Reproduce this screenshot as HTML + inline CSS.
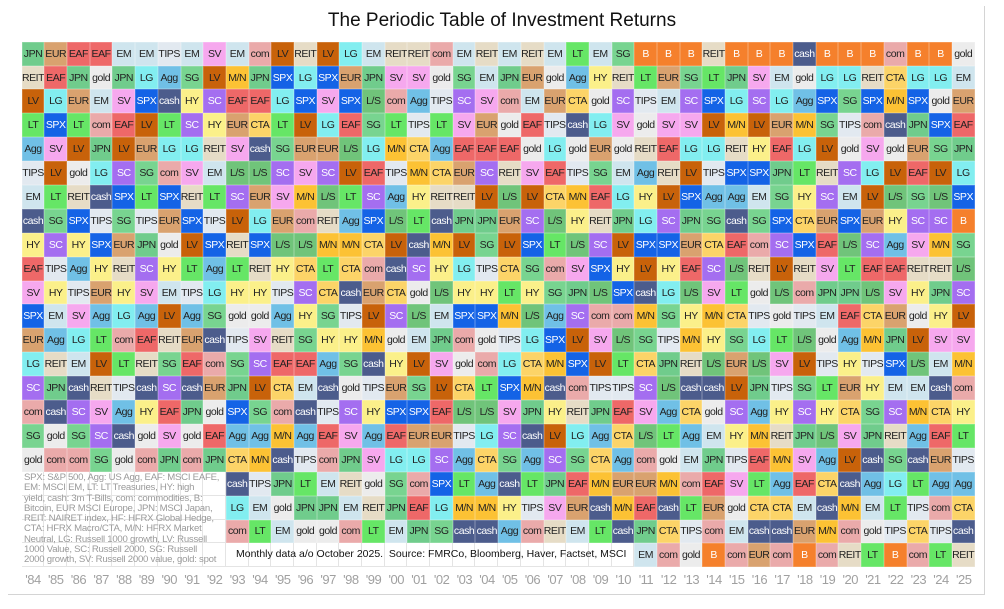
<!DOCTYPE html>
<html><head><meta charset="utf-8"><style>
body{margin:0;width:1004px;height:609px;background:#fff;position:relative;font-family:"Liberation Sans",Arial,sans-serif;overflow:hidden}
#frame{position:absolute;left:8px;top:6px;width:976px;height:588px;border:1px solid #d4d4d4;border-top:none;border-left:none}
#title{position:absolute;left:0;width:1004px;top:10px;text-align:center;font-size:19px;color:#111}
#g{position:absolute;left:21.7px;top:41.7px;display:grid;grid-template-columns:repeat(42,22.7px);grid-template-rows:repeat(22,23.9px)}
#g i{font-style:normal;display:flex;align-items:center;justify-content:center;font-size:10.5px;letter-spacing:-0.45px;color:#222;white-space:nowrap;overflow:hidden;box-shadow:inset 0 0 0 0.5px rgba(255,255,255,0.35)}
#g i.x{background:#fff;box-shadow:inset -1px -1px 0 #e4e4e4}
.j{background:#70cc8c}.eu{background:#d9a26f}.ea{background:#ee6868}.em{background:#cfe5ee}.ti{background:#e2e9f0}
.sv{background:#f6a8ee}.co{background:#eaaaaa}.re{background:#e6dcc6}.go{background:#ececec}.lg{background:#82eef0}
.ag{background:#70c0e6}.sg{background:#78d490}.lv{background:#c8620a}.mn{background:#fcc234}
.sp{background:#1463e6;color:#fff!important}.ca{background:#4c5c8c;color:#fff!important}.hy{background:#fbf08a}
.sc{background:#a46ef0;color:#fff!important}.lt{background:#66e666}.ct{background:#fcd468}.ls{background:#70c47a}
.b{background:#f5802c;color:#fff!important}
#leg{position:absolute;left:24px;top:473px;width:210px;font-size:9.6px;line-height:10.3px;color:#9a9a9a;letter-spacing:-0.25px;white-space:nowrap}
#src{position:absolute;left:236px;top:548px;font-size:10.5px;color:#111}
.yr{position:absolute;top:572px;width:22.7px;text-align:center;font-size:13px;color:#a0a0a0;letter-spacing:-0.5px}
</style></head><body>
<div id="frame"></div>
<div id="title">The Periodic Table of Investment Returns</div>
<div id="g">
<i class=j>JPN</i><i class=eu>EUR</i><i class=ea>EAF</i><i class=ea>EAF</i><i class=em>EM</i><i class=em>EM</i><i class=ti>TIPS</i><i class=em>EM</i><i class=sv>SV</i><i class=em>EM</i><i class=co>com</i><i class=lv>LV</i><i class=re>REIT</i><i class=lv>LV</i><i class=lg>LG</i><i class=em>EM</i><i class=re>REIT</i><i class=re>REIT</i><i class=co>com</i><i class=em>EM</i><i class=re>REIT</i><i class=em>EM</i><i class=re>REIT</i><i class=em>EM</i><i class=lt>LT</i><i class=em>EM</i><i class=sg>SG</i><i class=b>B</i><i class=b>B</i><i class=b>B</i><i class=re>REIT</i><i class=b>B</i><i class=b>B</i><i class=b>B</i><i class=ca>cash</i><i class=b>B</i><i class=b>B</i><i class=b>B</i><i class=co>com</i><i class=b>B</i><i class=b>B</i><i class=go>gold</i>
<i class=re>REIT</i><i class=ea>EAF</i><i class=j>JPN</i><i class=go>gold</i><i class=j>JPN</i><i class=lg>LG</i><i class=ag>Agg</i><i class=sg>SG</i><i class=lv>LV</i><i class=mn>M/N</i><i class=j>JPN</i><i class=sp>SPX</i><i class=lg>LG</i><i class=sp>SPX</i><i class=eu>EUR</i><i class=j>JPN</i><i class=sv>SV</i><i class=sv>SV</i><i class=go>gold</i><i class=sg>SG</i><i class=em>EM</i><i class=j>JPN</i><i class=eu>EUR</i><i class=go>gold</i><i class=ag>Agg</i><i class=hy>HY</i><i class=re>REIT</i><i class=lt>LT</i><i class=eu>EUR</i><i class=sg>SG</i><i class=lt>LT</i><i class=j>JPN</i><i class=sv>SV</i><i class=em>EM</i><i class=go>gold</i><i class=lg>LG</i><i class=lg>LG</i><i class=re>REIT</i><i class=ct>CTA</i><i class=lg>LG</i><i class=lg>LG</i><i class=em>EM</i>
<i class=lv>LV</i><i class=lg>LG</i><i class=eu>EUR</i><i class=em>EM</i><i class=sv>SV</i><i class=sp>SPX</i><i class=ca>cash</i><i class=hy>HY</i><i class=sc>SC</i><i class=ea>EAF</i><i class=ea>EAF</i><i class=lg>LG</i><i class=sp>SPX</i><i class=sv>SV</i><i class=sp>SPX</i><i class=ls>L/S</i><i class=co>com</i><i class=ag>Agg</i><i class=ti>TIPS</i><i class=sc>SC</i><i class=sv>SV</i><i class=co>com</i><i class=em>EM</i><i class=eu>EUR</i><i class=ct>CTA</i><i class=go>gold</i><i class=sc>SC</i><i class=ti>TIPS</i><i class=em>EM</i><i class=sc>SC</i><i class=sp>SPX</i><i class=lg>LG</i><i class=sc>SC</i><i class=lg>LG</i><i class=ag>Agg</i><i class=sp>SPX</i><i class=sg>SG</i><i class=sp>SPX</i><i class=mn>M/N</i><i class=sp>SPX</i><i class=go>gold</i><i class=eu>EUR</i>
<i class=lt>LT</i><i class=sp>SPX</i><i class=lt>LT</i><i class=co>com</i><i class=ea>EAF</i><i class=lv>LV</i><i class=lt>LT</i><i class=sc>SC</i><i class=hy>HY</i><i class=eu>EUR</i><i class=ct>CTA</i><i class=lt>LT</i><i class=lv>LV</i><i class=lg>LG</i><i class=ea>EAF</i><i class=sg>SG</i><i class=lt>LT</i><i class=ti>TIPS</i><i class=lt>LT</i><i class=sv>SV</i><i class=eu>EUR</i><i class=go>gold</i><i class=ea>EAF</i><i class=ti>TIPS</i><i class=ca>cash</i><i class=lg>LG</i><i class=sv>SV</i><i class=go>gold</i><i class=sv>SV</i><i class=sv>SV</i><i class=lv>LV</i><i class=mn>M/N</i><i class=lv>LV</i><i class=eu>EUR</i><i class=mn>M/N</i><i class=sg>SG</i><i class=ti>TIPS</i><i class=co>com</i><i class=ca>cash</i><i class=j>JPN</i><i class=sp>SPX</i><i class=ea>EAF</i>
<i class=ag>Agg</i><i class=sv>SV</i><i class=lv>LV</i><i class=j>JPN</i><i class=lv>LV</i><i class=eu>EUR</i><i class=lg>LG</i><i class=lg>LG</i><i class=re>REIT</i><i class=sv>SV</i><i class=ca>cash</i><i class=sg>SG</i><i class=eu>EUR</i><i class=eu>EUR</i><i class=ls>L/S</i><i class=lg>LG</i><i class=mn>M/N</i><i class=ct>CTA</i><i class=ag>Agg</i><i class=ea>EAF</i><i class=ea>EAF</i><i class=ea>EAF</i><i class=go>gold</i><i class=lg>LG</i><i class=go>gold</i><i class=eu>EUR</i><i class=go>gold</i><i class=re>REIT</i><i class=ea>EAF</i><i class=lg>LG</i><i class=lg>LG</i><i class=re>REIT</i><i class=hy>HY</i><i class=ea>EAF</i><i class=lg>LG</i><i class=lv>LV</i><i class=go>gold</i><i class=sv>SV</i><i class=go>gold</i><i class=eu>EUR</i><i class=sg>SG</i><i class=j>JPN</i>
<i class=ti>TIPS</i><i class=lv>LV</i><i class=go>gold</i><i class=lg>LG</i><i class=sc>SC</i><i class=sg>SG</i><i class=co>com</i><i class=sv>SV</i><i class=em>EM</i><i class=ls>L/S</i><i class=ls>L/S</i><i class=sc>SC</i><i class=sv>SV</i><i class=sc>SC</i><i class=lv>LV</i><i class=ea>EAF</i><i class=ti>TIPS</i><i class=mn>M/N</i><i class=ct>CTA</i><i class=eu>EUR</i><i class=sc>SC</i><i class=re>REIT</i><i class=sv>SV</i><i class=ea>EAF</i><i class=ti>TIPS</i><i class=sg>SG</i><i class=em>EM</i><i class=ag>Agg</i><i class=re>REIT</i><i class=lv>LV</i><i class=ti>TIPS</i><i class=sp>SPX</i><i class=sp>SPX</i><i class=j>JPN</i><i class=lt>LT</i><i class=re>REIT</i><i class=sc>SC</i><i class=lg>LG</i><i class=lv>LV</i><i class=ea>EAF</i><i class=lv>LV</i><i class=lg>LG</i>
<i class=em>EM</i><i class=lt>LT</i><i class=re>REIT</i><i class=ca>cash</i><i class=sp>SPX</i><i class=lt>LT</i><i class=sp>SPX</i><i class=re>REIT</i><i class=lt>LT</i><i class=sc>SC</i><i class=eu>EUR</i><i class=sv>SV</i><i class=mn>M/N</i><i class=ls>L/S</i><i class=lt>LT</i><i class=sc>SC</i><i class=ag>Agg</i><i class=hy>HY</i><i class=re>REIT</i><i class=re>REIT</i><i class=lv>LV</i><i class=ls>L/S</i><i class=lv>LV</i><i class=ct>CTA</i><i class=mn>M/N</i><i class=ea>EAF</i><i class=lg>LG</i><i class=hy>HY</i><i class=lv>LV</i><i class=sp>SPX</i><i class=ag>Agg</i><i class=ag>Agg</i><i class=em>EM</i><i class=sg>SG</i><i class=hy>HY</i><i class=sc>SC</i><i class=em>EM</i><i class=lv>LV</i><i class=ls>L/S</i><i class=sg>SG</i><i class=ls>L/S</i><i class=sp>SPX</i>
<i class=ca>cash</i><i class=sg>SG</i><i class=sp>SPX</i><i class=ti>TIPS</i><i class=sg>SG</i><i class=ti>TIPS</i><i class=eu>EUR</i><i class=sp>SPX</i><i class=ti>TIPS</i><i class=lv>LV</i><i class=lg>LG</i><i class=eu>EUR</i><i class=co>com</i><i class=re>REIT</i><i class=ag>Agg</i><i class=sp>SPX</i><i class=ls>L/S</i><i class=lt>LT</i><i class=ca>cash</i><i class=j>JPN</i><i class=j>JPN</i><i class=eu>EUR</i><i class=sc>SC</i><i class=ls>L/S</i><i class=hy>HY</i><i class=re>REIT</i><i class=j>JPN</i><i class=lg>LG</i><i class=sc>SC</i><i class=j>JPN</i><i class=sg>SG</i><i class=ca>cash</i><i class=sg>SG</i><i class=sp>SPX</i><i class=ct>CTA</i><i class=eu>EUR</i><i class=sp>SPX</i><i class=eu>EUR</i><i class=hy>HY</i><i class=sc>SC</i><i class=sc>SC</i><i class=b>B</i>
<i class=hy>HY</i><i class=sc>SC</i><i class=hy>HY</i><i class=sp>SPX</i><i class=eu>EUR</i><i class=j>JPN</i><i class=go>gold</i><i class=lv>LV</i><i class=sp>SPX</i><i class=re>REIT</i><i class=sp>SPX</i><i class=ls>L/S</i><i class=ls>L/S</i><i class=mn>M/N</i><i class=mn>M/N</i><i class=ct>CTA</i><i class=lv>LV</i><i class=ca>cash</i><i class=mn>M/N</i><i class=lv>LV</i><i class=sg>SG</i><i class=lv>LV</i><i class=sp>SPX</i><i class=lt>LT</i><i class=ls>L/S</i><i class=sc>SC</i><i class=lv>LV</i><i class=sp>SPX</i><i class=sp>SPX</i><i class=eu>EUR</i><i class=ct>CTA</i><i class=ea>EAF</i><i class=co>com</i><i class=sc>SC</i><i class=sp>SPX</i><i class=ea>EAF</i><i class=ls>L/S</i><i class=sc>SC</i><i class=ag>Agg</i><i class=sv>SV</i><i class=mn>M/N</i><i class=sg>SG</i>
<i class=ea>EAF</i><i class=ti>TIPS</i><i class=ag>Agg</i><i class=hy>HY</i><i class=re>REIT</i><i class=sc>SC</i><i class=hy>HY</i><i class=lt>LT</i><i class=ag>Agg</i><i class=lt>LT</i><i class=re>REIT</i><i class=hy>HY</i><i class=ct>CTA</i><i class=lt>LT</i><i class=ct>CTA</i><i class=co>com</i><i class=ca>cash</i><i class=sc>SC</i><i class=hy>HY</i><i class=lg>LG</i><i class=ti>TIPS</i><i class=ct>CTA</i><i class=sg>SG</i><i class=co>com</i><i class=sv>SV</i><i class=sp>SPX</i><i class=hy>HY</i><i class=lv>LV</i><i class=hy>HY</i><i class=ea>EAF</i><i class=sc>SC</i><i class=ls>L/S</i><i class=re>REIT</i><i class=lv>LV</i><i class=re>REIT</i><i class=sv>SV</i><i class=lt>LT</i><i class=ea>EAF</i><i class=ea>EAF</i><i class=re>REIT</i><i class=re>REIT</i><i class=ls>L/S</i>
<i class=sv>SV</i><i class=hy>HY</i><i class=ti>TIPS</i><i class=eu>EUR</i><i class=hy>HY</i><i class=sv>SV</i><i class=em>EM</i><i class=ti>TIPS</i><i class=lg>LG</i><i class=hy>HY</i><i class=hy>HY</i><i class=ti>TIPS</i><i class=sc>SC</i><i class=ct>CTA</i><i class=ca>cash</i><i class=eu>EUR</i><i class=ct>CTA</i><i class=go>gold</i><i class=ls>L/S</i><i class=hy>HY</i><i class=hy>HY</i><i class=lt>LT</i><i class=hy>HY</i><i class=sg>SG</i><i class=j>JPN</i><i class=ls>L/S</i><i class=sp>SPX</i><i class=ca>cash</i><i class=lg>LG</i><i class=ls>L/S</i><i class=sv>SV</i><i class=lt>LT</i><i class=go>gold</i><i class=ls>L/S</i><i class=co>com</i><i class=j>JPN</i><i class=j>JPN</i><i class=ls>L/S</i><i class=sv>SV</i><i class=hy>HY</i><i class=j>JPN</i><i class=sc>SC</i>
<i class=sp>SPX</i><i class=em>EM</i><i class=sv>SV</i><i class=ag>Agg</i><i class=lg>LG</i><i class=ag>Agg</i><i class=lv>LV</i><i class=ag>Agg</i><i class=sg>SG</i><i class=go>gold</i><i class=go>gold</i><i class=ag>Agg</i><i class=hy>HY</i><i class=sg>SG</i><i class=ti>TIPS</i><i class=lv>LV</i><i class=sc>SC</i><i class=ls>L/S</i><i class=em>EM</i><i class=sp>SPX</i><i class=sp>SPX</i><i class=mn>M/N</i><i class=ls>L/S</i><i class=ag>Agg</i><i class=sc>SC</i><i class=co>com</i><i class=co>com</i><i class=mn>M/N</i><i class=sg>SG</i><i class=hy>HY</i><i class=mn>M/N</i><i class=ct>CTA</i><i class=ti>TIPS</i><i class=go>gold</i><i class=ti>TIPS</i><i class=em>EM</i><i class=ea>EAF</i><i class=ct>CTA</i><i class=eu>EUR</i><i class=go>gold</i><i class=hy>HY</i><i class=lv>LV</i>
<i class=eu>EUR</i><i class=ag>Agg</i><i class=lg>LG</i><i class=lt>LT</i><i class=co>com</i><i class=ea>EAF</i><i class=re>REIT</i><i class=eu>EUR</i><i class=ca>cash</i><i class=ti>TIPS</i><i class=sv>SV</i><i class=re>REIT</i><i class=sg>SG</i><i class=hy>HY</i><i class=hy>HY</i><i class=mn>M/N</i><i class=go>gold</i><i class=em>EM</i><i class=j>JPN</i><i class=co>com</i><i class=go>gold</i><i class=ti>TIPS</i><i class=lg>LG</i><i class=sp>SPX</i><i class=lv>LV</i><i class=sv>SV</i><i class=ls>L/S</i><i class=sg>SG</i><i class=ti>TIPS</i><i class=mn>M/N</i><i class=hy>HY</i><i class=sg>SG</i><i class=lg>LG</i><i class=lt>LT</i><i class=ls>L/S</i><i class=go>gold</i><i class=ag>Agg</i><i class=mn>M/N</i><i class=j>JPN</i><i class=lv>LV</i><i class=sv>SV</i><i class=sv>SV</i>
<i class=lg>LG</i><i class=re>REIT</i><i class=em>EM</i><i class=lv>LV</i><i class=lt>LT</i><i class=re>REIT</i><i class=sg>SG</i><i class=ea>EAF</i><i class=co>com</i><i class=sg>SG</i><i class=sc>SC</i><i class=ea>EAF</i><i class=ea>EAF</i><i class=ag>Agg</i><i class=sg>SG</i><i class=ca>cash</i><i class=hy>HY</i><i class=lv>LV</i><i class=sv>SV</i><i class=go>gold</i><i class=co>com</i><i class=lg>LG</i><i class=ct>CTA</i><i class=mn>M/N</i><i class=sp>SPX</i><i class=lv>LV</i><i class=lt>LT</i><i class=ct>CTA</i><i class=j>JPN</i><i class=re>REIT</i><i class=ls>L/S</i><i class=eu>EUR</i><i class=ls>L/S</i><i class=sv>SV</i><i class=lv>LV</i><i class=ti>TIPS</i><i class=hy>HY</i><i class=ti>TIPS</i><i class=sp>SPX</i><i class=ls>L/S</i><i class=em>EM</i><i class=mn>M/N</i>
<i class=sc>SC</i><i class=j>JPN</i><i class=ca>cash</i><i class=re>REIT</i><i class=ti>TIPS</i><i class=ca>cash</i><i class=sc>SC</i><i class=ca>cash</i><i class=eu>EUR</i><i class=j>JPN</i><i class=lv>LV</i><i class=ct>CTA</i><i class=em>EM</i><i class=ca>cash</i><i class=go>gold</i><i class=ti>TIPS</i><i class=eu>EUR</i><i class=sg>SG</i><i class=lv>LV</i><i class=ct>CTA</i><i class=lt>LT</i><i class=sp>SPX</i><i class=mn>M/N</i><i class=ca>cash</i><i class=co>com</i><i class=ti>TIPS</i><i class=ti>TIPS</i><i class=sc>SC</i><i class=ls>L/S</i><i class=ca>cash</i><i class=ca>cash</i><i class=lv>LV</i><i class=j>JPN</i><i class=ti>TIPS</i><i class=sg>SG</i><i class=lt>LT</i><i class=eu>EUR</i><i class=hy>HY</i><i class=em>EM</i><i class=em>EM</i><i class=ca>cash</i><i class=co>com</i>
<i class=co>com</i><i class=ca>cash</i><i class=sc>SC</i><i class=sv>SV</i><i class=ag>Agg</i><i class=hy>HY</i><i class=ea>EAF</i><i class=j>JPN</i><i class=go>gold</i><i class=sp>SPX</i><i class=sg>SG</i><i class=co>com</i><i class=ca>cash</i><i class=ti>TIPS</i><i class=sc>SC</i><i class=hy>HY</i><i class=sp>SPX</i><i class=sp>SPX</i><i class=ea>EAF</i><i class=ls>L/S</i><i class=ls>L/S</i><i class=sv>SV</i><i class=j>JPN</i><i class=hy>HY</i><i class=re>REIT</i><i class=j>JPN</i><i class=ea>EAF</i><i class=sv>SV</i><i class=ag>Agg</i><i class=ct>CTA</i><i class=go>gold</i><i class=sc>SC</i><i class=ag>Agg</i><i class=hy>HY</i><i class=sc>SC</i><i class=hy>HY</i><i class=ct>CTA</i><i class=sg>SG</i><i class=sc>SC</i><i class=mn>M/N</i><i class=ct>CTA</i><i class=hy>HY</i>
<i class=sg>SG</i><i class=go>gold</i><i class=sg>SG</i><i class=sc>SC</i><i class=ca>cash</i><i class=go>gold</i><i class=sv>SV</i><i class=go>gold</i><i class=ea>EAF</i><i class=ag>Agg</i><i class=ag>Agg</i><i class=mn>M/N</i><i class=ag>Agg</i><i class=ea>EAF</i><i class=sv>SV</i><i class=ag>Agg</i><i class=ea>EAF</i><i class=eu>EUR</i><i class=eu>EUR</i><i class=ti>TIPS</i><i class=lg>LG</i><i class=sc>SC</i><i class=ca>cash</i><i class=lv>LV</i><i class=lg>LG</i><i class=ag>Agg</i><i class=ct>CTA</i><i class=ls>L/S</i><i class=lt>LT</i><i class=ag>Agg</i><i class=em>EM</i><i class=hy>HY</i><i class=mn>M/N</i><i class=re>REIT</i><i class=j>JPN</i><i class=ls>L/S</i><i class=sv>SV</i><i class=j>JPN</i><i class=re>REIT</i><i class=ag>Agg</i><i class=ea>EAF</i><i class=lt>LT</i>
<i class=go>gold</i><i class=co>com</i><i class=co>com</i><i class=sg>SG</i><i class=go>gold</i><i class=co>com</i><i class=j>JPN</i><i class=co>com</i><i class=j>JPN</i><i class=ct>CTA</i><i class=mn>M/N</i><i class=ca>cash</i><i class=ti>TIPS</i><i class=co>com</i><i class=j>JPN</i><i class=sv>SV</i><i class=lg>LG</i><i class=lg>LG</i><i class=sc>SC</i><i class=ag>Agg</i><i class=ct>CTA</i><i class=sg>SG</i><i class=ag>Agg</i><i class=sc>SC</i><i class=sg>SG</i><i class=ct>CTA</i><i class=ag>Agg</i><i class=co>com</i><i class=go>gold</i><i class=em>EM</i><i class=j>JPN</i><i class=ti>TIPS</i><i class=ea>EAF</i><i class=mn>M/N</i><i class=sv>SV</i><i class=ag>Agg</i><i class=lv>LV</i><i class=ca>cash</i><i class=sg>SG</i><i class=ca>cash</i><i class=eu>EUR</i><i class=ti>TIPS</i>
<i class=x></i><i class=x></i><i class=x></i><i class=x></i><i class=x></i><i class=x></i><i class=x></i><i class=x></i><i class=x></i><i class=ca>cash</i><i class=ti>TIPS</i><i class=j>JPN</i><i class=lt>LT</i><i class=em>EM</i><i class=re>REIT</i><i class=go>gold</i><i class=sg>SG</i><i class=co>com</i><i class=sp>SPX</i><i class=lt>LT</i><i class=ag>Agg</i><i class=ca>cash</i><i class=lt>LT</i><i class=j>JPN</i><i class=ea>EAF</i><i class=mn>M/N</i><i class=eu>EUR</i><i class=eu>EUR</i><i class=mn>M/N</i><i class=co>com</i><i class=ea>EAF</i><i class=sv>SV</i><i class=lt>LT</i><i class=ag>Agg</i><i class=ea>EAF</i><i class=ct>CTA</i><i class=ca>cash</i><i class=ag>Agg</i><i class=lg>LG</i><i class=lt>LT</i><i class=ag>Agg</i><i class=ag>Agg</i>
<i class=x></i><i class=x></i><i class=x></i><i class=x></i><i class=x></i><i class=x></i><i class=x></i><i class=x></i><i class=x></i><i class=lg>LG</i><i class=em>EM</i><i class=go>gold</i><i class=j>JPN</i><i class=j>JPN</i><i class=em>EM</i><i class=re>REIT</i><i class=j>JPN</i><i class=ea>EAF</i><i class=lg>LG</i><i class=mn>M/N</i><i class=mn>M/N</i><i class=hy>HY</i><i class=ti>TIPS</i><i class=sv>SV</i><i class=eu>EUR</i><i class=ca>cash</i><i class=mn>M/N</i><i class=ea>EAF</i><i class=ca>cash</i><i class=lt>LT</i><i class=eu>EUR</i><i class=go>gold</i><i class=ct>CTA</i><i class=ct>CTA</i><i class=em>EM</i><i class=ca>cash</i><i class=mn>M/N</i><i class=em>EM</i><i class=lt>LT</i><i class=ti>TIPS</i><i class=co>com</i><i class=ct>CTA</i>
<i class=x></i><i class=x></i><i class=x></i><i class=x></i><i class=x></i><i class=x></i><i class=x></i><i class=x></i><i class=x></i><i class=co>com</i><i class=lt>LT</i><i class=em>EM</i><i class=go>gold</i><i class=go>gold</i><i class=co>com</i><i class=lt>LT</i><i class=em>EM</i><i class=j>JPN</i><i class=sg>SG</i><i class=ca>cash</i><i class=ca>cash</i><i class=ag>Agg</i><i class=co>com</i><i class=re>REIT</i><i class=em>EM</i><i class=lt>LT</i><i class=ca>cash</i><i class=j>JPN</i><i class=ct>CTA</i><i class=ti>TIPS</i><i class=co>com</i><i class=em>EM</i><i class=ca>cash</i><i class=ca>cash</i><i class=eu>EUR</i><i class=mn>M/N</i><i class=co>com</i><i class=go>gold</i><i class=ti>TIPS</i><i class=ct>CTA</i><i class=ti>TIPS</i><i class=ca>cash</i>
<i class=x></i><i class=x></i><i class=x></i><i class=x></i><i class=x></i><i class=x></i><i class=x></i><i class=x></i><i class=x></i><i class=x></i><i class=x></i><i class=x></i><i class=x></i><i class=x></i><i class=x></i><i class=x></i><i class=x></i><i class=x></i><i class=x></i><i class=x></i><i class=x></i><i class=x></i><i class=x></i><i class=x></i><i class=x></i><i class=x></i><i class=x></i><i class=em>EM</i><i class=co>com</i><i class=go>gold</i><i class=b>B</i><i class=co>com</i><i class=eu>EUR</i><i class=co>com</i><i class=b>B</i><i class=co>com</i><i class=re>REIT</i><i class=lt>LT</i><i class=b>B</i><i class=co>com</i><i class=lt>LT</i><i class=re>REIT</i>
</div>
<div id="leg">SPX: S&amp;P 500, Agg: US Agg, EAF: MSCI EAFE,<br>EM: MSCI EM, LT: LT Treasuries, HY: high<br>yield, cash: 3m T-Bills, com: commodities, B:<br>Bitcoin, EUR MSCI Europe, JPN: MSCI Japan,<br>REIT: NAIRET index, HF: HFRX Global Hedge,<br>CTA: HFRX Macro/CTA, M/N: HFRX Market<br>Neutral, LG: Russell 1000 growth, LV: Russell<br>1000 Value, SC: Russell 2000, SG: Russell<br>2000 growth, SV: Russell 2000 value, gold: spot</div>
<div id="src">Monthly data a/o October 2025.&nbsp; Source: FMRCo, Bloomberg, Haver, Factset, MSCI</div>
<div class="yr" style="left:21.7px">'84</div><div class="yr" style="left:44.4px">'85</div><div class="yr" style="left:67.1px">'86</div><div class="yr" style="left:89.8px">'87</div><div class="yr" style="left:112.5px">'88</div><div class="yr" style="left:135.2px">'89</div><div class="yr" style="left:157.9px">'90</div><div class="yr" style="left:180.6px">'91</div><div class="yr" style="left:203.3px">'92</div><div class="yr" style="left:226px">'93</div><div class="yr" style="left:248.7px">'94</div><div class="yr" style="left:271.4px">'95</div><div class="yr" style="left:294.1px">'96</div><div class="yr" style="left:316.8px">'97</div><div class="yr" style="left:339.5px">'98</div><div class="yr" style="left:362.2px">'99</div><div class="yr" style="left:384.9px">'00</div><div class="yr" style="left:407.6px">'01</div><div class="yr" style="left:430.3px">'02</div><div class="yr" style="left:453px">'03</div><div class="yr" style="left:475.7px">'04</div><div class="yr" style="left:498.4px">'05</div><div class="yr" style="left:521.1px">'06</div><div class="yr" style="left:543.8px">'07</div><div class="yr" style="left:566.5px">'08</div><div class="yr" style="left:589.2px">'09</div><div class="yr" style="left:611.9px">'10</div><div class="yr" style="left:634.6px">'11</div><div class="yr" style="left:657.3px">'12</div><div class="yr" style="left:680px">'13</div><div class="yr" style="left:702.7px">'14</div><div class="yr" style="left:725.4px">'15</div><div class="yr" style="left:748.1px">'16</div><div class="yr" style="left:770.8px">'17</div><div class="yr" style="left:793.5px">'18</div><div class="yr" style="left:816.2px">'19</div><div class="yr" style="left:838.9px">'20</div><div class="yr" style="left:861.6px">'21</div><div class="yr" style="left:884.3px">'22</div><div class="yr" style="left:907px">'23</div><div class="yr" style="left:929.7px">'24</div><div class="yr" style="left:952.4px">'25</div>
</body></html>
